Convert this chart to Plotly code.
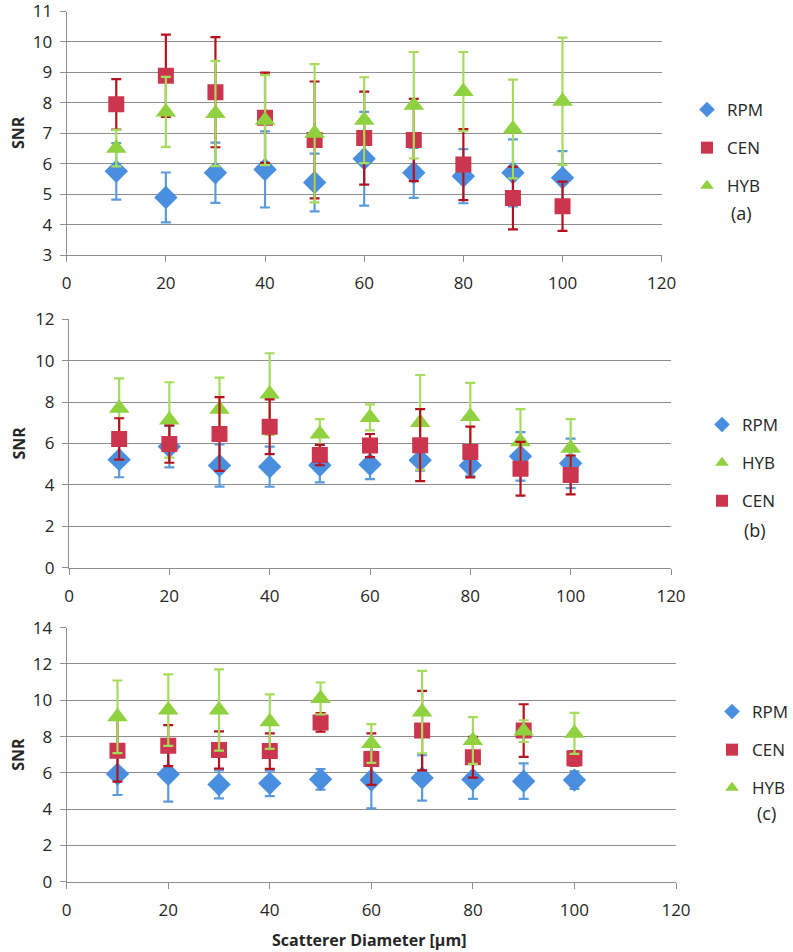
import plotly.graph_objects as go

# ---------------- data ----------------
diameters = [10, 20, 30, 40, 50, 60, 70, 80, 90, 100]

# panel (a)
rpm_a = [5.75, 4.89, 5.70, 5.81, 5.38, 6.16, 5.70, 5.59, 5.70, 5.54]
rpm_a_err = [0.93, 0.82, 0.99, 1.25, 0.95, 1.54, 0.82, 0.89, 1.10, 0.87]
cen_a = [7.95, 8.89, 8.35, 7.51, 6.78, 6.84, 6.78, 5.97, 4.87, 4.60]
cen_a_err = [0.83, 1.35, 1.81, 1.48, 1.92, 1.53, 1.35, 1.17, 1.03, 0.81]
hyb_a = [6.51, 7.70, 7.65, 7.43, 7.00, 7.43, 7.92, 8.37, 7.14, 8.05]
hyb_a_err = [0.60, 1.15, 1.73, 1.48, 2.27, 1.41, 1.75, 1.30, 1.62, 2.09]

# panel (b)
rpm_b = [5.22, 5.85, 4.94, 4.88, 4.95, 4.99, 5.19, 4.94, 5.38, 5.04]
rpm_b_err = [0.85, 1.00, 1.02, 0.97, 0.83, 0.71, 0.50, 0.50, 1.17, 1.20]
cen_b = [6.22, 5.97, 6.46, 6.81, 5.44, 5.90, 5.92, 5.59, 4.78, 4.48]
cen_b_err = [1.00, 0.90, 1.78, 1.32, 0.49, 0.56, 1.74, 1.23, 1.30, 0.94]
hyb_b = [7.70, 7.14, 7.65, 8.39, 6.46, 7.26, 7.02, 7.30, 6.08, 5.77]
hyb_b_err = [1.45, 1.82, 1.53, 1.97, 0.72, 0.63, 2.29, 1.63, 1.58, 1.41]

# panel (c)
rpm_c = [5.93, 5.92, 5.36, 5.42, 5.64, 5.60, 5.72, 5.63, 5.54, 5.60]
rpm_c_err = [1.15, 1.51, 0.77, 0.70, 0.57, 1.56, 1.25, 1.06, 0.98, 0.48]
cen_c = [7.22, 7.50, 7.26, 7.20, 8.78, 6.76, 8.33, 6.86, 8.33, 6.80]
cen_c_err = [1.70, 1.13, 1.03, 0.98, 0.51, 1.42, 2.19, 1.12, 1.45, 0.40]
hyb_c = [9.09, 9.46, 9.46, 8.82, 10.10, 7.62, 9.35, 7.78, 8.30, 8.18]
hyb_c_err = [2.00, 1.97, 2.24, 1.50, 0.88, 1.07, 2.27, 1.29, 0.60, 1.13]

x_ticks = [0, 20, 40, 60, 80, 100, 120]

# ---------------- styles ----------------
FONT = "Open Sans"
W, H = 793, 952
style = {
    "RPM": dict(symbol="diamond", size=18, color="#4A8FDF", err="#5A9BDB"),
    "CEN": dict(symbol="square", size=16, color="#CB364E", err="#B5121E"),
    "HYB": dict(symbol="triangle-up", size=18, color="#8FD13F", err="#A6DC5C"),
}

fig = go.Figure()


def add(name, y, err, xa, ya, legend, panel):
    s = style[name]
    fig.add_trace(go.Scatter(
        x=diameters, y=y, mode="markers", name=name,
        xaxis=xa, yaxis=ya, legend=legend, legendgroup=panel + name,
        marker=dict(symbol=s["symbol"], size=s["size"], color=s["color"],
                    line=dict(width=0)),
        error_y=dict(type="data", array=err, symmetric=True,
                     color=s["err"], thickness=2.2, width=5),
    ))


add("RPM", rpm_a, rpm_a_err, "x", "y", "legend", "a")
add("CEN", cen_a, cen_a_err, "x", "y", "legend", "a")
add("HYB", hyb_a, hyb_a_err, "x", "y", "legend", "a")

add("RPM", rpm_b, rpm_b_err, "x2", "y2", "legend2", "b")
add("HYB", hyb_b, hyb_b_err, "x2", "y2", "legend2", "b")
add("CEN", cen_b, cen_b_err, "x2", "y2", "legend2", "b")

add("RPM", rpm_c, rpm_c_err, "x3", "y3", "legend3", "c")
add("CEN", cen_c, cen_c_err, "x3", "y3", "legend3", "c")
add("HYB", hyb_c, hyb_c_err, "x3", "y3", "legend3", "c")


def px_x(p):
    return p / W


def px_y(p):
    return 1 - p / H


grid_col = "#8E8E8E"
tick_font = dict(family=FONT, size=17, color="#262626")


def xaxis(l, r, anchor):
    return dict(domain=[px_x(l), px_x(r)], anchor=anchor, range=[0, 120],
                tickvals=x_ticks, showgrid=False, zeroline=False,
                showline=True, linecolor=grid_col, linewidth=1,
                ticks="outside", ticklen=6, tickcolor=grid_col,
                ticklabelstandoff=7, tickfont=tick_font, automargin=False,
                ticklabeloverflow="allow")


def yaxis(top, bot, rng, dtick, anchor):
    return dict(domain=[px_y(bot), px_y(top)], anchor=anchor, range=rng,
                dtick=dtick, showgrid=True, gridcolor=grid_col, gridwidth=1,
                zeroline=False, showline=True, linecolor=grid_col,
                linewidth=1, ticks="outside", ticklen=6, tickcolor=grid_col,
                ticklabelstandoff=4, tickfont=tick_font, automargin=False,
                ticklabeloverflow="allow")


def legend(xp, yp):
    return dict(x=px_x(xp), y=px_y(yp), xanchor="left", yanchor="top",
                font=dict(family=FONT, size=17, color="#262626"),
                bgcolor="rgba(0,0,0,0)", borderwidth=0,
                tracegroupgap=13, traceorder="grouped",
                itemsizing="constant")


fig.update_layout(
    width=W, height=H,
    margin=dict(l=0, r=0, t=0, b=0, autoexpand=False),
    paper_bgcolor="white", plot_bgcolor="white",
    font=dict(family=FONT, size=17, color="#262626"),
    xaxis=xaxis(66.7, 661.7, "y"),
    yaxis=yaxis(11.5, 255, [3, 11], 1, "x"),
    xaxis2=xaxis(69, 671, "y2"),
    yaxis2=yaxis(319.3, 567.7, [0, 12], 2, "x2"),
    xaxis3=xaxis(66.7, 676, "y3"),
    yaxis3=yaxis(627.7, 881.7, [0, 14], 2, "x3"),
    legend=legend(687, 92),
    legend2=legend(702, 407),
    legend3=legend(712, 694),
    showlegend=True,
)

ann = []
for yc in [133, 443.5, 754.7]:
    ann.append(dict(text="<b>SNR</b>", x=px_x(18), y=px_y(yc), xref="paper",
                    yref="paper", textangle=-90, showarrow=False,
                    xanchor="center", yanchor="middle",
                    font=dict(family=FONT, size=16, color="#262626")))
for lab, xc, yc in [("(a)", 741, 213), ("(b)", 755, 530), ("(c)", 766.7, 813)]:
    ann.append(dict(text=lab, x=px_x(xc), y=px_y(yc), xref="paper",
                    yref="paper", showarrow=False,
                    xanchor="center", yanchor="middle",
                    font=dict(family=FONT, size=18, color="#262626")))
ann.append(dict(text="<b>Scatterer Diameter [µm]</b>", x=px_x(369),
                y=px_y(940), xref="paper", yref="paper", showarrow=False,
                xanchor="center", yanchor="middle",
                font=dict(family=FONT, size=16, color="#262626")))
fig.update_layout(annotations=ann)

fig.write_html("out.html",
               config={"displayModeBar": False},
               post_script="document.body.style.margin='0px';")
